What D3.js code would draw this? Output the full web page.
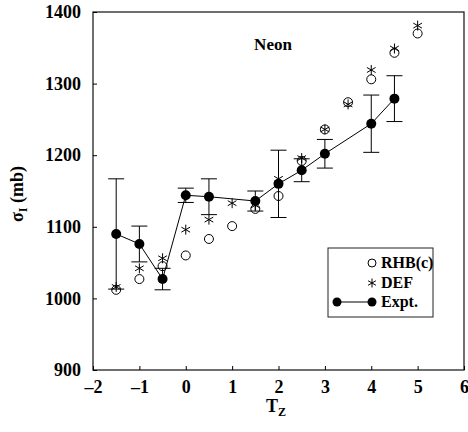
<!DOCTYPE html>
<html>
<head>
<meta charset="utf-8">
<script src="https://cdn.jsdelivr.net/npm/d3@7"></script>
<style>
  body { margin: 0; background: #fff; }
  text { font-family: "Liberation Serif", "Times New Roman", serif; font-weight: bold; }
</style>
</head>
<body>
<svg id="chart" width="468" height="432"></svg>
<script>
// Neon: sigma_I vs T_z
var xTicks = [-2, -1, 0, 1, 2, 3, 4, 5, 6];
var yTicks = [900, 1000, 1100, 1200, 1300, 1400];

var exptTz   = [-1.5, -1, -0.5, 0, 0.5, 1.5, 2, 2.5, 3, 4, 4.5];
var exptVal  = [1090, 1076, 1027, 1144, 1142, 1136, 1160, 1179, 1202, 1244, 1279];
var exptErr  = [77, 25, 15, 10, 25, 14, 47, 16, 20, 40, 32];

var rhbTz    = [-1.5, -1, -0.5, 0, 0.5, 1, 1.5, 2, 2.5, 3, 3.5, 4, 4.5, 5];
var rhbVal   = [1012, 1027, 1045, 1060, 1083, 1101, 1125, 1143, 1192, 1236, 1274, 1306, 1343, 1370];

var defTz    = [-1.5, -1, -0.5, 0, 0.5, 1, 1.5, 2, 2.5, 3, 3.5, 4, 4.5, 5];
var defVal   = [1016, 1042, 1056, 1096, 1110, 1133, 1130, 1167, 1196, 1236, 1271, 1319, 1349, 1381];

var svg = d3.select("#chart");
var plotL = 93, plotR = 464, plotT = 12, plotB = 370;

var x = d3.scaleLinear().domain([-2, 6]).range([plotL, plotR]);
var y = d3.scaleLinear().domain([900, 1400]).range([plotB, plotT]);

// frame
svg.append("rect")
    .attr("x", plotL).attr("y", plotT)
    .attr("width", plotR - plotL).attr("height", plotB - plotT)
    .attr("fill", "none").attr("stroke", "#222").attr("stroke-width", 1.3);

// axes, ticks pointing inward
var xAxis = svg.append("g")
    .attr("transform", "translate(0," + plotB + ")")
    .call(d3.axisBottom(x).tickValues(xTicks).tickSizeInner(-4).tickSizeOuter(0).tickPadding(10)
        .tickFormat(function (d) { return d < 0 ? "\u2013" + Math.abs(d) : d; }));
xAxis.select(".domain").remove();
xAxis.selectAll("text").attr("font-size", 18).attr("fill", "#000");

var yAxis = svg.append("g")
    .attr("transform", "translate(" + plotL + ",0)")
    .call(d3.axisLeft(y).tickValues(yTicks).tickSizeInner(-4).tickSizeOuter(0).tickPadding(12)
        .tickFormat(d3.format("d")));
yAxis.select(".domain").remove();
yAxis.selectAll("text").attr("font-size", 18).attr("fill", "#000");

// axis titles
var xt = svg.append("text").attr("x", 276).attr("y", 412).attr("text-anchor", "middle")
    .attr("font-size", 18);
xt.append("tspan").text("T");
xt.append("tspan").attr("font-size", 12).attr("dy", 4).text("Z");

var yt = svg.append("text").attr("transform", "translate(23,194) rotate(-90)")
    .attr("text-anchor", "middle").attr("font-size", 18);
yt.append("tspan").text("\u03c3");
yt.append("tspan").attr("font-size", 12).attr("dy", 4).text("I");
yt.append("tspan").attr("dy", -4).text(" (mb)");

svg.append("text").attr("x", 273).attr("y", 50).attr("text-anchor", "middle")
    .attr("font-size", 17).text("Neon");

// asterisk symbol
function asterisk(g, cx, cy, r) {
    [0, 60, 120].forEach(function (a) {
        var rad = a * Math.PI / 180;
        g.append("line")
            .attr("x1", cx - r * Math.sin(rad)).attr("y1", cy - r * Math.cos(rad))
            .attr("x2", cx + r * Math.sin(rad)).attr("y2", cy + r * Math.cos(rad))
            .attr("stroke", "#000").attr("stroke-width", 1);
    });
}

// error bars
var eb = svg.append("g").attr("stroke", "#000").attr("stroke-width", 1);
exptTz.forEach(function (t, i) {
    var cx = x(t), y1 = y(exptVal[i] + exptErr[i]), y0 = y(exptVal[i] - exptErr[i]);
    eb.append("line").attr("x1", cx).attr("x2", cx).attr("y1", y1).attr("y2", y0);
    eb.append("line").attr("x1", cx - 8).attr("x2", cx + 8).attr("y1", y1).attr("y2", y1);
    eb.append("line").attr("x1", cx - 8).attr("x2", cx + 8).attr("y1", y0).attr("y2", y0);
});

// RHB(c) open circles
svg.append("g").selectAll("circle").data(rhbTz).join("circle")
    .attr("cx", function (d) { return x(d); })
    .attr("cy", function (d, i) { return y(rhbVal[i]); })
    .attr("r", 4.5).attr("fill", "none").attr("stroke", "#000").attr("stroke-width", 1);

// DEF asterisks
var defG = svg.append("g");
defTz.forEach(function (t, i) { asterisk(defG, x(t), y(defVal[i]), 5); });

// Expt line + filled circles
var line = d3.line().x(function (d) { return x(d); }).y(function (d, i) { return y(exptVal[i]); });
svg.append("path").datum(exptTz).attr("d", line)
    .attr("fill", "none").attr("stroke", "#000").attr("stroke-width", 1);
svg.append("g").selectAll("circle").data(exptTz).join("circle")
    .attr("cx", function (d) { return x(d); })
    .attr("cy", function (d, i) { return y(exptVal[i]); })
    .attr("r", 5).attr("fill", "#000");

// legend
var lg = svg.append("g");
lg.append("rect").attr("x", 328).attr("y", 248).attr("width", 105).attr("height", 69)
    .attr("fill", "#fff").attr("stroke", "#222").attr("stroke-width", 1);
lg.append("circle").attr("cx", 372).attr("cy", 263).attr("r", 4)
    .attr("fill", "none").attr("stroke", "#000");
asterisk(lg, 372, 283, 4.5);
lg.append("line").attr("x1", 337).attr("x2", 372).attr("y1", 302).attr("y2", 302)
    .attr("stroke", "#000");
lg.append("circle").attr("cx", 337).attr("cy", 302).attr("r", 4.5).attr("fill", "#000");
lg.append("circle").attr("cx", 372).attr("cy", 302).attr("r", 4.5).attr("fill", "#000");
[["RHB(c)", 268], ["DEF", 288], ["Expt.", 307]].forEach(function (e) {
    lg.append("text").attr("x", 381).attr("y", e[1]).attr("font-size", 16).text(e[0]);
});
</script>
</body>
</html>
